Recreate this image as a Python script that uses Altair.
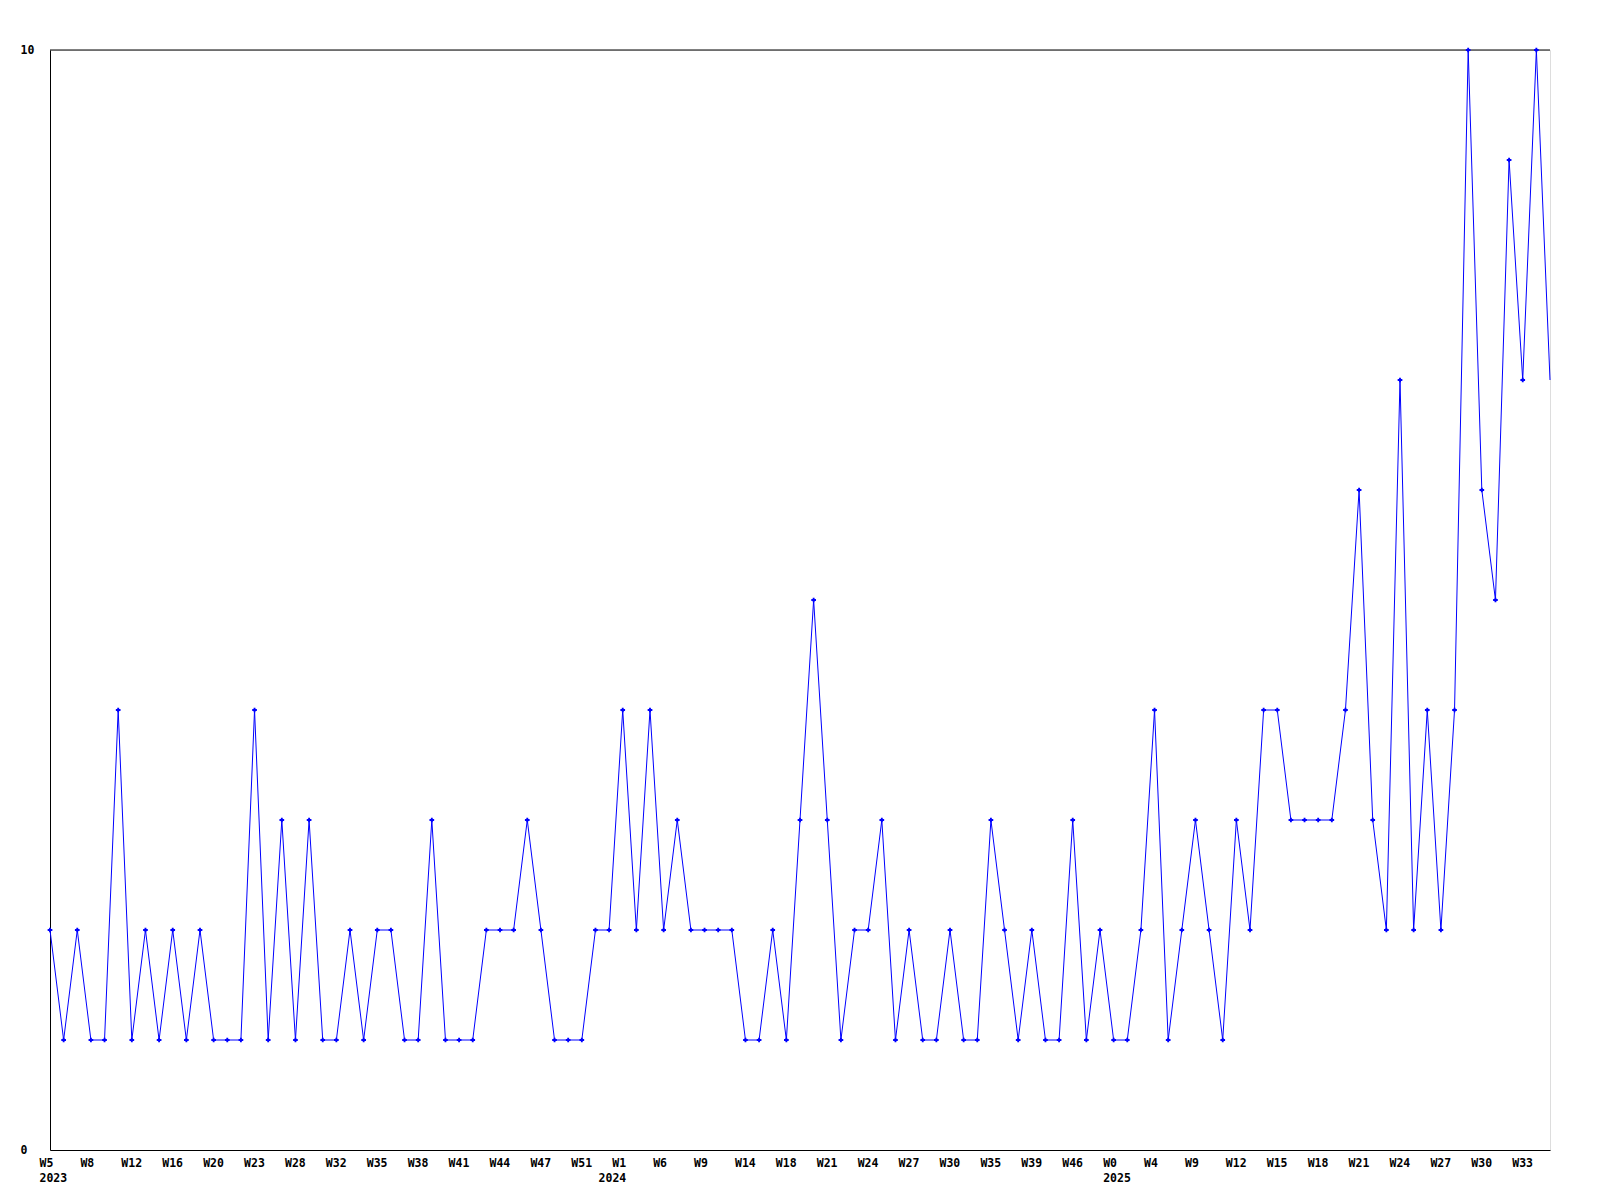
import altair as alt
import pandas as pd

# weekly values (one per point, left to right)
values = [
    2, 1, 2, 1, 1, 4, 1, 2, 1, 2, 1, 2, 1, 1, 1, 4, 1, 3, 1, 3,
    1, 1, 2, 1, 2, 2, 1, 1, 3, 1, 1, 1, 2, 2, 2, 3, 2, 1, 1, 1,
    2, 2, 4, 2, 4, 2, 3, 2, 2, 2, 2, 1, 1, 2, 1, 3, 5, 3, 1, 2,
    2, 3, 1, 2, 1, 1, 2, 1, 1, 3, 2, 1, 2, 1, 1, 3, 1, 2, 1, 1,
    2, 4, 1, 2, 3, 2, 1, 3, 2, 4, 4, 3, 3, 3, 3, 4, 6, 3, 2, 7,
    2, 4, 2, 4, 10, 6, 5, 9, 7, 10, 7,
]

week_labels = [
    "W5", "W8", "W12", "W16", "W20", "W23", "W28", "W32", "W35", "W38",
    "W41", "W44", "W47", "W51", "W1", "W6", "W9", "W14", "W18", "W21",
    "W24", "W27", "W30", "W35", "W39", "W46", "W0", "W4", "W9", "W12",
    "W15", "W18", "W21", "W24", "W27", "W30", "W33",
]
label_step = 3

year_labels = ["2023", "2024", "2025"]
year_positions = [0, 41, 78]

FONT = "DejaVu Sans Mono"
FSIZE = 11.5
BLUE = "#0000FF"

df = pd.DataFrame({"i": list(range(len(values))), "v": values})
ldf = pd.DataFrame({"i": [k * label_step for k in range(len(week_labels))], "t": week_labels})
ydf = pd.DataFrame({"i": year_positions, "t": year_labels})

xscale = alt.Scale(domain=[0, len(values) - 1], nice=False, zero=False)
yscale = alt.Scale(domain=[0, 10], nice=False)

xaxis = alt.Axis(labels=False, ticks=False, tickSize=0, grid=False, title=None,
                 domainColor="black", domainWidth=1)
yaxis = alt.Axis(values=[0, 10], ticks=False, tickSize=0, grid=False, title=None,
                 labelAlign="left", labelPadding=30, labelFlush=False,
                 labelBaseline="middle", domainColor="black", domainWidth=1,
                 labelFont=FONT, labelFontSize=FSIZE, labelFontWeight="bold",
                 labelColor="black", format="d")

base = alt.Chart(df)

line = base.mark_line(color=BLUE, strokeWidth=1).encode(
    x=alt.X("i:Q", scale=xscale, axis=xaxis),
    y=alt.Y("v:Q", scale=yscale, axis=yaxis),
)

points = base.transform_filter(alt.datum.i < len(values) - 1).mark_point(
    shape="cross", size=22, filled=True, color=BLUE, opacity=1
).encode(
    x=alt.X("i:Q", scale=xscale),
    y=alt.Y("v:Q", scale=yscale),
)

top_line = alt.Chart(pd.DataFrame({"v": [10]})).mark_rule(color="black", strokeWidth=1).encode(
    y=alt.Y("v:Q", scale=yscale)
)

wtext = alt.Chart(ldf).mark_text(
    align="left", baseline="alphabetic", dx=-10.5, font=FONT, fontSize=FSIZE,
    fontWeight="bold", color="black"
).encode(
    x=alt.X("i:Q", scale=xscale),
    y=alt.value(1117),
    text="t:N",
)

ytext = alt.Chart(ydf).mark_text(
    align="left", baseline="alphabetic", dx=-10.5, font=FONT, fontSize=FSIZE,
    fontWeight="bold", color="black"
).encode(
    x=alt.X("i:Q", scale=xscale),
    y=alt.value(1132),
    text="t:N",
)

chart = alt.layer(top_line, line, points, wtext, ytext).properties(
    width=1500,
    height=1100,
    autosize=alt.AutoSizeParams(type="none"),
    padding={"left": 42, "top": 42, "right": 30, "bottom": 40},
).configure_view(stroke="transparent", strokeWidth=0).configure(background="white")

chart.save("out.html", embed_options={"renderer": "svg", "actions": False})
